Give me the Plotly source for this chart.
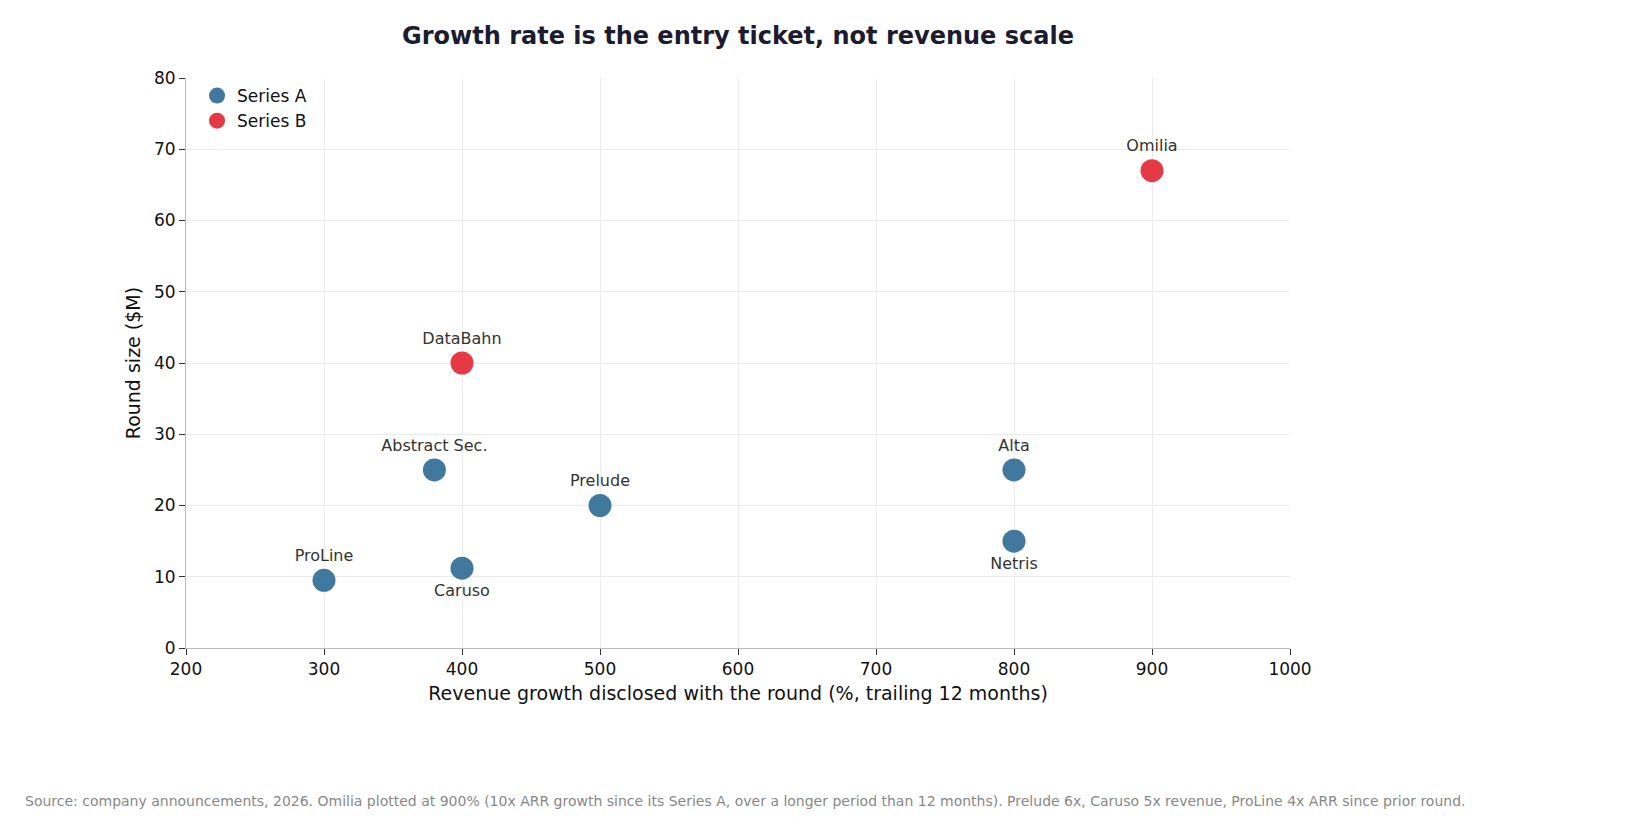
import plotly.graph_objects as go

a_names = ["ProLine", "Caruso", "Abstract Sec.", "Prelude", "Alta", "Netris"]
a_x = [300, 400, 380, 500, 800, 800]
a_y = [9.5, 11.2, 25, 20, 25, 15]
a_pos = ["top center", "bottom center", "top center", "top center", "top center", "bottom center"]
b_names = ["DataBahn", "Omilia"]
b_x = [400, 900]
b_y = [40, 67]
b_pos = ["top center", "top center"]

L, R, T, B = 178, 362, 70, 177
W, H = 1644, 817
pw, ph = W - L - R, H - T - B

fig = go.Figure()
for name, xs, ys, labels, pos, col in [
    ("Series A", a_x, a_y, a_names, a_pos, "#41789d"),
    ("Series B", b_x, b_y, b_names, b_pos, "#e63946"),
]:
    fig.add_trace(go.Scatter(x=xs, y=ys, mode="markers+text", name=name, text=labels,
                             textposition=pos, textfont=dict(size=16, color="#333"),
                             marker=dict(size=23, color=col)))

fig.update_layout(
    width=W, height=H, plot_bgcolor="white", paper_bgcolor="white",
    font=dict(family="DejaVu Sans", size=17, color="#111"),
    margin=dict(l=L, r=R, t=T, b=B),
    title=dict(text="<b>Growth rate is the entry ticket, not revenue scale</b>", x=(L + pw / 2) / W,
               xanchor="center", y=1 - 28 / H, yanchor="middle", font=dict(size=24, color="#1c1c30")),
    legend=dict(x=0.01, y=1.0, xanchor="left", yanchor="top", bgcolor="rgba(0,0,0,0)", font=dict(size=17)),
    xaxis=dict(range=[200, 1000], dtick=100, showgrid=True, gridcolor="#ebebeb", showline=True,
               linecolor="#bbb", ticks="outside", ticklen=6, tickcolor="#333", zeroline=False,
               title=dict(text="Revenue growth disclosed with the round (%, trailing 12 months)", font=dict(size=19),
                          standoff=8)),
    yaxis=dict(range=[0, 80], dtick=10, showgrid=True, gridcolor="#ebebeb", showline=True,
               linecolor="#bbb", ticks="outside", ticklen=6, tickcolor="#333", zeroline=False,
               title=dict(text="Round size ($M)", font=dict(size=19), standoff=8)),
    annotations=[dict(text="Source: company announcements, 2026. Omilia plotted at 900% (10x ARR growth since its Series A, over a longer period than 12 months). Prelude 6x, Caruso 5x revenue, ProLine 4x ARR since prior round.",
                      xref="paper", yref="paper", x=(15 - L) / pw, y=-(793 - (H - B)) / ph, xanchor="left", yanchor="middle",
                      showarrow=False, font=dict(size=14, color="#888"))],
)
fig.write_html("out.html")
